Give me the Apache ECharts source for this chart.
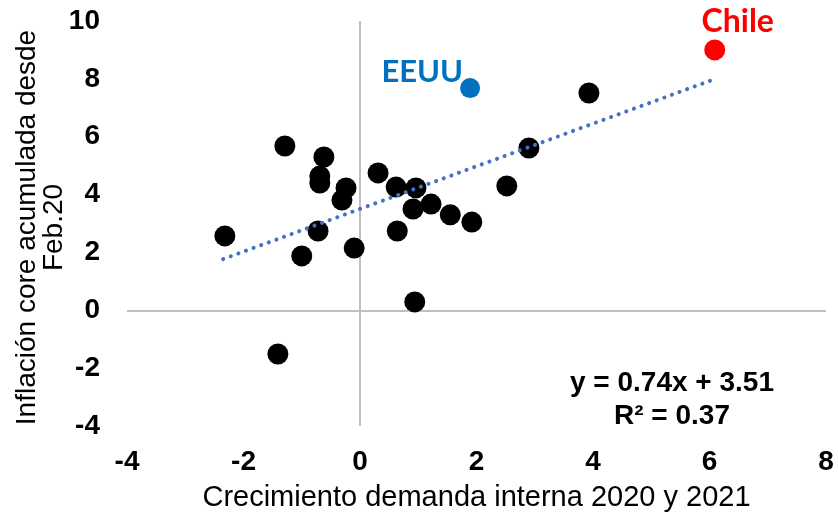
<!DOCTYPE html>
<html>
<head>
<meta charset="utf-8">
<script src="https://cdn.jsdelivr.net/npm/echarts@6/dist/echarts.min.js"></script>
<style>
  html, body { margin: 0; padding: 0; background: #fff; }
  #chart { width: 838px; height: 515px; }
</style>
</head>
<body>
<div id="chart"></div>
<script>
// demanda interna (x) vs inflación core acumulada (y), resto de países
const otherX = [-2.32, -1.29, -0.62, -0.69, -0.69, -0.24, -0.31, -0.72, -1.00, -0.10,
                0.31, 0.62, 0.96, 0.91, 1.22, 1.55, 1.92, 0.64, 0.94, -1.41,
                2.52, 2.90, 3.93];
const otherY = [2.57, 5.68, 5.30, 4.64, 4.40, 4.23, 3.81, 2.74, 1.88, 2.15,
                4.75, 4.26, 4.23, 3.50, 3.67, 3.30, 3.05, 2.74, 0.29, -1.51,
                4.30, 5.61, 7.51];
const eeuu = [1.89, 7.68];
const chile = [6.09, 9.0];

// línea de tendencia (extremos)
const trendX = [-2.35, 6.1];
const trendY = [1.77, 8.0];

const eqText = 'y = 0.74x + 3.51';
const r2Text = 'R² = 0.37';

const font = '"Liberation Sans", Arial, sans-serif';

const chart = echarts.init(document.getElementById('chart'));

const option = {
  animation: false,
  grid: { left: 127, right: 12, top: 21, bottom: 89, outerBoundsMode: 'none' },
  xAxis: {
    type: 'value',
    min: -4, max: 8, interval: 2,
    axisLine: { show: false },
    axisTick: { show: false },
    splitLine: { show: false },
    axisLabel: { margin: 22, color: '#000', fontWeight: 'bold', fontSize: 28, fontFamily: font },
    name: 'Crecimiento demanda interna 2020 y 2021',
    nameLocation: 'middle',
    nameGap: 57,
    nameMoveOverlap: false,
    nameTextStyle: { color: '#000', fontSize: 29, fontFamily: font }
  },
  yAxis: {
    type: 'value',
    min: -4, max: 10, interval: 2,
    axisLine: { show: false },
    axisTick: { show: false },
    splitLine: { show: false },
    axisLabel: { margin: 27, color: '#000', fontWeight: 'bold', fontSize: 28, fontFamily: font },
    name: 'Inflación core acumulada desde\nFeb.20',
    nameLocation: 'middle',
    nameGap: 59,
    nameRotate: 90,
    nameMoveOverlap: false,
    nameTextStyle: { color: '#000', fontSize: 28, lineHeight: 27, fontFamily: font, padding: [0, 8, 0, 0] }
  },
  series: [
    {
      type: 'scatter',
      data: otherX.map((x, i) => [x, otherY[i]]),
      symbolSize: 21,
      itemStyle: { color: '#000', opacity: 1 },
      z: 2,
      markLine: {
        silent: true,
        symbol: 'none',
        label: { show: false },
        lineStyle: { color: '#bfbfbf', width: 2, type: 'solid' },
        data: [{ xAxis: 0 }, { yAxis: 0 }],
        z: 1
      }
    },
    {
      type: 'scatter',
      data: [eeuu],
      symbolSize: 20,
      itemStyle: { color: '#0070C0', opacity: 1 },
      label: {
        show: true,
        formatter: 'EEUU',
        position: 'left',
        distance: 0,
        offset: [3, -16],
        color: '#0070C0',
        fontWeight: 'bold',
        fontSize: 31,
        fontFamily: 'Lato, "Open Sans", sans-serif'
      },
      z: 2
    },
    {
      type: 'scatter',
      data: [chile],
      symbolSize: 21,
      itemStyle: { color: '#FF0000', opacity: 1 },
      label: {
        show: true,
        formatter: 'Chile',
        position: 'top',
        distance: 2,
        offset: [23, 0],
        color: '#FF0000',
        fontWeight: 'bold',
        fontSize: 32,
        fontFamily: 'Lato, "Open Sans", sans-serif'
      },
      z: 2
    },
    {
      type: 'line',
      data: trendX.map((x, i) => [x, trendY[i]]),
      showSymbol: false,
      symbol: 'none',
      silent: true,
      lineStyle: { color: '#4472C4', width: 4, type: [0.1, 8], cap: 'round' },
      z: 3
    }
  ],
  graphic: [
    {
      type: 'text',
      x: 672, y: 400,
      style: {
        text: eqText + '\n' + r2Text,
        align: 'center', verticalAlign: 'middle',
        fill: '#000', font: 'bold 28px ' + font, lineHeight: 33
      }
    }
  ]
};

chart.setOption(option);
</script>
</body>
</html>
